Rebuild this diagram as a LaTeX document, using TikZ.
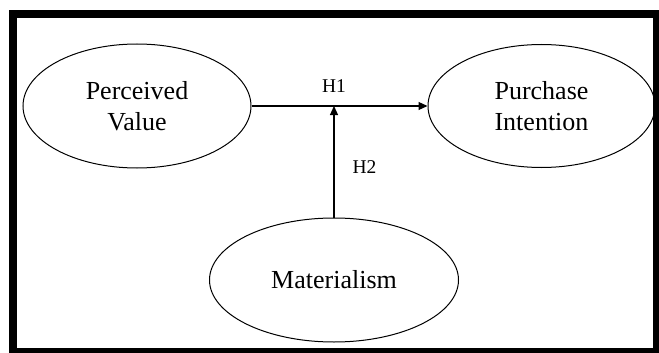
\documentclass[tikz,border=0pt]{standalone}
\usepackage{fontspec}
\setmainfont{Liberation Serif}
\usetikzlibrary{shapes.geometric, arrows.meta, positioning}

\begin{document}
\begin{tikzpicture}[x=1pt, y=1pt,
        construct/.style={ellipse, draw, line width=1pt, inner sep=0pt, align=center, font=\fontsize{26}{31}\selectfont},
        link/.style={line width=1.2pt, -{Triangle[length=9pt, width=8pt]}},
        hyp/.style={font=\fontsize{19.5}{22}\selectfont}]
        \useasboundingbox (0,0) rectangle (659,-353);
        \draw [line width=8pt] (13,-14) rectangle (657,-352);

        \node (pv) [construct, minimum width=228pt, minimum height=124pt] at (137,-106) {Perceived\\Value};
        \node (pi) [construct, minimum width=227pt, minimum height=123pt, right=176pt of pv] {Purchase\\Intention};
        \node (mat) [construct, minimum width=249pt, minimum height=124pt] at (334,-280) {Materialism};

        \coordinate (junction) at (mat.north |- pv.east);

        \draw [link] (pv.east) -- (pi.west);
        \draw [link] (mat.north) -- (junction);

        \node (h1) [hyp, above=10pt of junction] {H1};
        \node (h2) [hyp, right=15pt of junction, yshift=-61pt] {H2};
    \end{tikzpicture}
\end{document}
